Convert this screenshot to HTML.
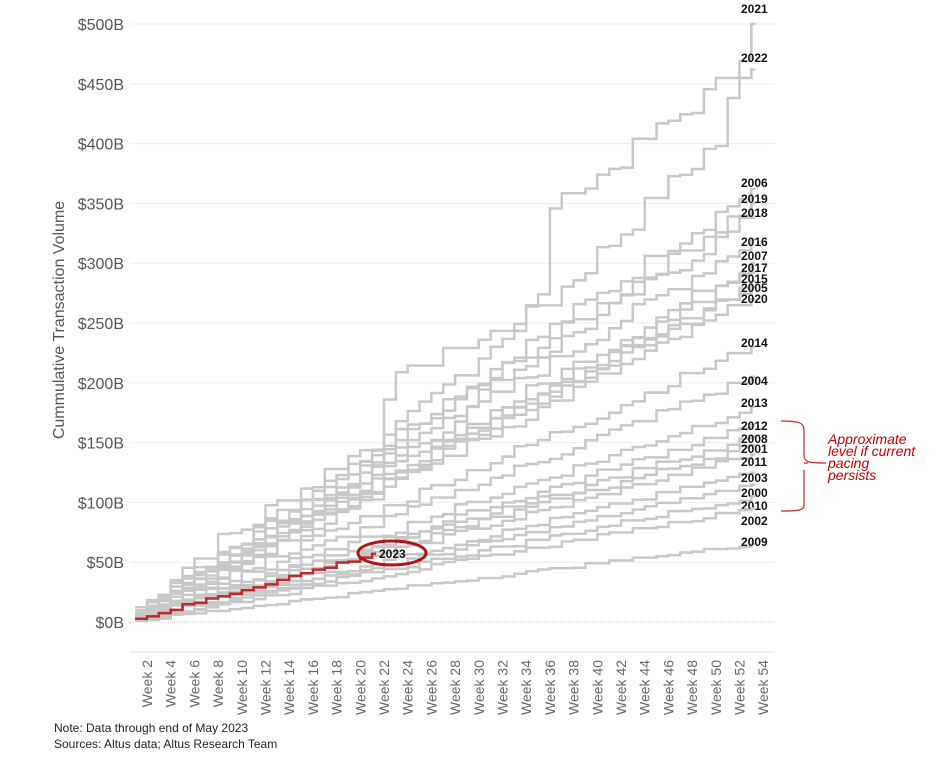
<!DOCTYPE html>
<html><head><meta charset="utf-8"><style>
body{margin:0;background:#fff;width:943px;height:757px;overflow:hidden;font-family:"Liberation Sans",sans-serif}
</style></head><body>
<svg id="s" width="943" height="757" xmlns="http://www.w3.org/2000/svg" font-family="Liberation Sans, sans-serif"></svg>
<script>
const s=document.getElementById('s');let h='';
const Y=v=>622-v*598/500, X=w=>147+(w-2)*11.85;
for(let v=0;v<=500;v+=50){h+=`<line x1="130" x2="775" y1="${Y(v)}" y2="${Y(v)}" stroke="${v==0?'#ccc':'#eee'}" stroke-dasharray="${v==0?'1,1':''}"/>`;
h+=`<text x="124" y="${Y(v)+6}" text-anchor="end" font-size="16" fill="#555">$${v}B</text>`;}
h+=`<line x1="130" x2="775" y1="652" y2="652" stroke="#ddd"/>`;
h+=`<text transform="translate(64,320) rotate(-90)" text-anchor="middle" font-size="16" fill="#555">Cummulative Transaction Volume</text>`;
for(let w=2;w<=54;w+=2)h+=`<text transform="translate(${X(w)+5},660) rotate(-90)" text-anchor="end" font-size="14" fill="#666">Week ${w}</text>`;
let seed=7;const r=()=>(seed=(seed*9301+49297)%233280)/233280;
const yrs=[[2021,500,8],[2022,462,57],[2006,362,182],[2019,350,198],[2018,338,212],[2016,320,241],[2007,300,255],[2017,292,267],[2015,285,278],[2005,280,287],[2020,270,298],[2014,230,342],[2004,205,380],[2013,180,402],[2012,165,425],[2008,155,438],[2001,148,448],[2011,140,461],[2003,125,477],[2000,115,492],[2010,105,505],[2002,95,520],[2009,65,541]];
function path(vals){let d=`M${X(1)},${Y(vals[0])}`;for(let i=1;i<vals.length;i++){d+=`H${X(i+1)}V${Y(vals[i])}`}return d+`H${X(vals.length)+4}`;}
yrs.forEach(([yr,f,ly])=>{let vals=[],v=0;
 for(let w=1;w<=53;w++){let base=f*w/53;
  if(yr==2021){base=w<4?w*3:w<22?40+(w-4)*6.5:w<36?195+(w-22)*5:w<50?270+(w-36)*9.5:400+(w-50)*33;}
  if(yr==2022){base=w<22?w*6:w<36?150+(w-22)*9.2:w<37?350:350+(w-37)*7.5;}
  v=Math.max(v,base+(r()-0.5)*f*0.04);vals.push(v);}
 vals[52]=f;
 h+=`<path d="${path(vals)}" fill="none" stroke="#c8c8c8" stroke-width="2.5"/>`;
 h+=`<text x="741" y="${ly+5}" font-size="12" font-weight="bold" fill="#111">${yr}</text>`;});
let rv=[],v=0;for(let w=1;w<=21;w++){v=Math.max(v,w*57/21+(r()-0.5)*3);rv.push(v)}rv[20]=57;
h+=`<path d="${path(rv)}" fill="none" stroke="#c0282d" stroke-width="2.5"/>`;
h+=`<text x="379" y="558" font-size="12" font-weight="bold" fill="#111">2023</text>`;
h+=`<ellipse cx="392" cy="553" rx="34" ry="12" fill="none" stroke="#b0131b" stroke-width="3"/>`;
h+=`<path d="M781,421 C800,421 804,423 804,430 V455 C804,462 808,463 826,463 M804,470 V505 C804,510 800,511 781,511 M808,463 H804" fill="none" stroke="#c0282d" stroke-width="1.2"/>`;
['Approximate','level if current','pacing','persists'].forEach((t,i)=>h+=`<text x="828" y="${444+i*12}" font-size="14" font-style="italic" fill="#c00000">${t}</text>`);
h+=`<text x="54" y="732" font-size="12" fill="#222">Note: Data through end of May 2023</text><text x="54" y="748" font-size="12" fill="#222">Sources: Altus data; Altus Research Team</text>`;
s.innerHTML=h;
</script>
</body></html>
